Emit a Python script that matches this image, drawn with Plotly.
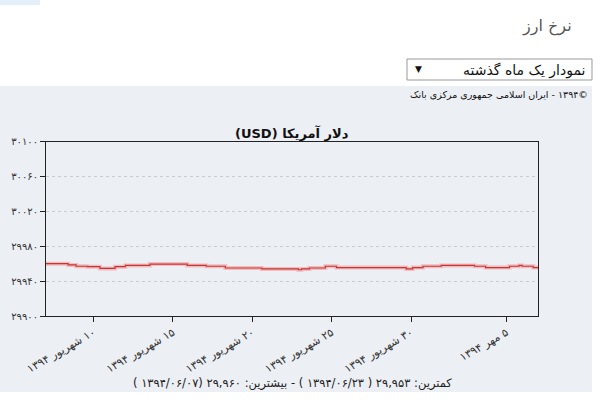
import plotly.graph_objects as go

# ---- data ----
days = [0, 1.4, 1.9, 2.6, 3.4, 4.35, 5.0, 6.55, 8.9, 10.1, 11.3, 13.6, 15.9, 16.1,
        16.6, 17.6, 18.3, 22.7, 23.1, 23.75, 24.9, 27.0, 27.7, 29.2, 29.8, 30.0, 30.7, 31.0]
rates = [29960, 29958.5, 29957, 29956.5, 29954.5, 29956.5, 29958, 29959.5, 29958, 29957,
         29955, 29954, 29953, 29954, 29955, 29957, 29955.5, 29954, 29955.5, 29957, 29958,
         29957, 29955.5, 29957, 29958, 29957, 29955.5, 29955.5]
x_tick_vals = [3, 8, 13, 18, 23, 29]
x_tick_text = ["۱۰ شهریور ۱۳۹۴", "۱۵ شهریور ۱۳۹۴", "۲۰ شهریور ۱۳۹۴",
               "۲۵ شهریور ۱۳۹۴", "۳۰ شهریور ۱۳۹۴", "۵ مهر ۱۳۹۴"]
y_tick_vals = [29900, 29940, 29980, 30020, 30060, 30100]
y_tick_text = ["۲۹۹۰۰", "۲۹۹۴۰", "۲۹۹۸۰", "۳۰۰۲۰", "۳۰۰۶۰", "۳۰۱۰۰"]

page_title = "نرخ ارز"
dropdown_text = "نمودار یک ماه گذشته"
copyright_words = ["بانک", "مرکزی", "جمهوری", "اسلامی", "ایران", "-", "۱۳۹۴©"]
chart_title = "دلار آمریکا (USD)"
summary_text = "کمترین: ۲۹,۹۵۳ ( ۱۳۹۴/۰۶/۲۳ ) - بیشترین: ۲۹,۹۶۰ (۱۳۹۴/۰۶/۰۷ )"

RLE, LRE, PDF, LRM = "\u202b", "\u202a", "\u202c", "\u200e"
def rtl(s): return RLE + s + PDF

FONT = "DejaVu Sans, Tahoma, sans-serif"
PANEL = "#eceff4"
W, H = 600, 400

def px(v): return v / W
def py(v): return 1 - v / H

fig = go.Figure()
fig.add_trace(go.Scatter(x=days, y=rates, mode="lines",
                         line=dict(color="rgba(240,150,150,0.55)", width=4, shape="hv"),
                         hoverinfo="skip", showlegend=False))
fig.add_trace(go.Scatter(x=days, y=rates, mode="lines",
                         line=dict(color="#cc3333", width=1.2, shape="hv"), showlegend=False))

fig.update_layout(
    width=W, height=H,
    margin=dict(l=0, r=0, t=0, b=0, autoexpand=False),
    paper_bgcolor="white",
    plot_bgcolor=PANEL,
    font=dict(family=FONT, size=10, color="#333"),
    xaxis=dict(domain=[px(46), px(538)], range=[0, 31], tickvals=x_tick_vals,
               ticktext=[rtl(t) for t in x_tick_text], automargin=False,
               tickangle=-30, ticks="outside", ticklen=5, tickcolor="#222", showgrid=False,
               showline=True, linecolor="#222", linewidth=1, mirror=True, zeroline=False,
               tickfont=dict(size=11, color="#333")),
    yaxis=dict(domain=[py(316), py(141.5)], range=[29900, 30100], tickvals=y_tick_vals,
               ticktext=y_tick_text, automargin=False,
               ticks="outside", ticklen=5, tickcolor="#222", showgrid=True, gridcolor="#c9ccd2",
               griddash="dot", gridwidth=1, showline=True, linecolor="#222", linewidth=1, mirror=True,
               zeroline=False, tickfont=dict(size=10, color="#333")),
    shapes=[
        dict(type="rect", xref="paper", yref="paper", x0=0, x1=px(592), y0=py(392), y1=py(86),
             fillcolor=PANEL, line=dict(width=0), layer="below"),
        dict(type="rect", xref="paper", yref="paper", x0=px(407), x1=px(592), y0=py(80), y1=py(59),
             fillcolor="white", line=dict(color="#999", width=1)),
        dict(type="rect", xref="paper", yref="paper", x0=0, x1=px(40), y0=py(5), y1=1,
             fillcolor="rgba(200,225,245,0.5)", line=dict(width=0)),
    ],
    annotations=[
        dict(text=rtl(page_title), xref="paper", yref="paper", x=px(574), y=py(26), xanchor="right",
             yanchor="middle", showarrow=False, font=dict(size=16, color="#555", family=FONT)),
        dict(text=rtl(dropdown_text), xref="paper", yref="paper", x=px(587), y=py(70), xanchor="right",
             yanchor="middle", showarrow=False, font=dict(size=14, color="#111", family=FONT)),
        dict(text="▼", xref="paper", yref="paper", x=px(418), y=py(69), xanchor="center", yanchor="middle",
             showarrow=False, font=dict(size=9, color="#111", family=FONT)),
        dict(text=LRE + (LRM + " ").join(copyright_words) + PDF, xref="paper", yref="paper",
             x=px(590), y=py(94), xanchor="right", yanchor="middle",
             showarrow=False, font=dict(size=9.5, color="#111", family=FONT)),
        dict(text="<b>" + rtl(chart_title) + "</b>", xref="paper", yref="paper", x=px(292), y=py(133),
             xanchor="center", yanchor="middle", showarrow=False, font=dict(size=13, color="#111", family=FONT)),
        dict(text=rtl(summary_text), xref="paper", yref="paper", x=px(292), y=py(383), xanchor="center",
             yanchor="middle", showarrow=False, font=dict(size=11.5, color="#222", family=FONT)),
    ],
)

fig.write_html("out.html", config={"displayModeBar": False},
               post_script="document.body.style.margin='0';")
